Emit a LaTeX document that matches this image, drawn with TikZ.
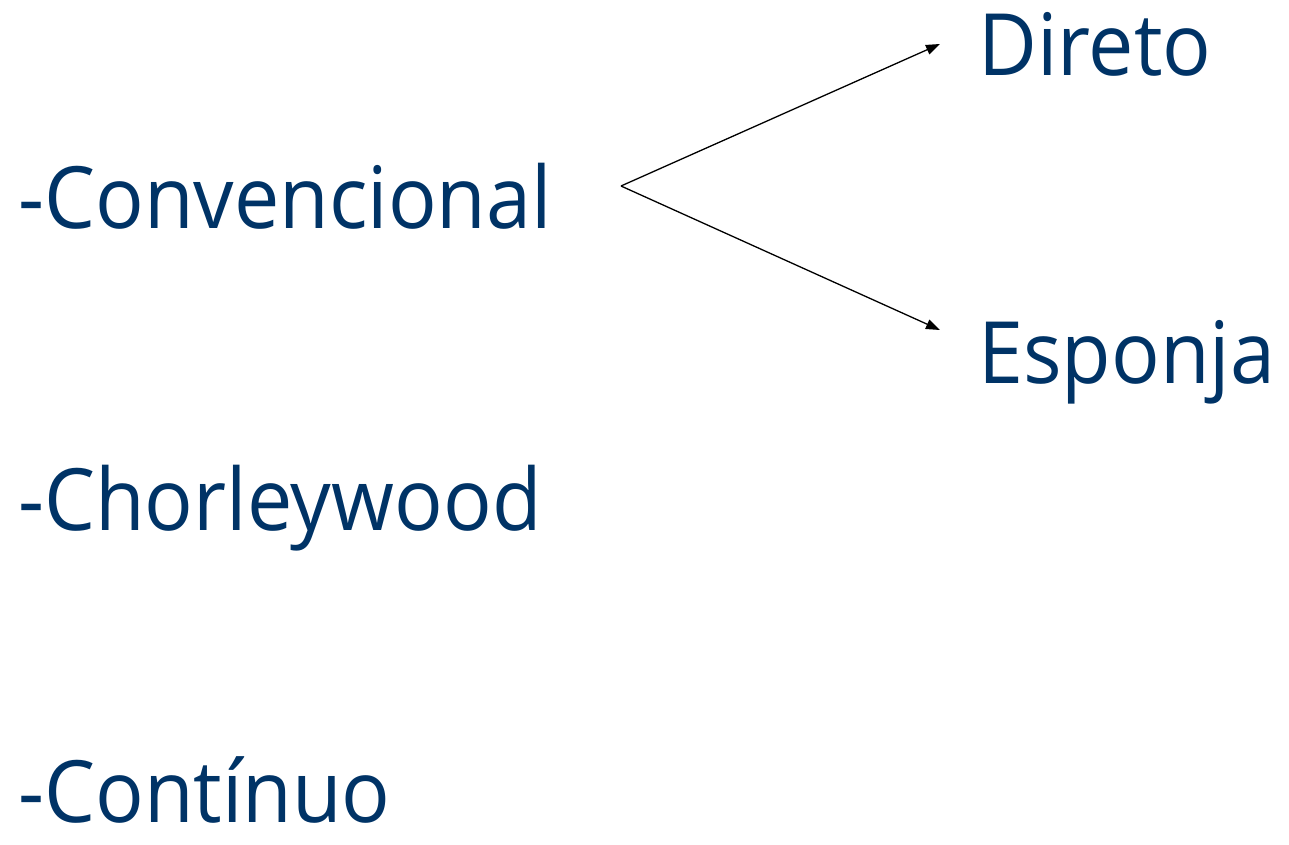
\documentclass[tikz,border=0pt]{standalone}
\usepackage{fontspec}
\setmainfont{Open Sans}
\usetikzlibrary{arrows.meta}
\definecolor{txtblue}{HTML}{003366}
\newcommand{\narrow}[1]{\scalebox{0.94}[1]{#1}}
\begin{document}
\begin{tikzpicture}[x=1pt,y=-1pt,
  lbl/.style={anchor=base west,inner sep=0pt,text=txtblue,font=\fontsize{86}{100}\selectfont},
  arr/.style={-{Triangle[length=14pt,width=10pt]},line width=1.3pt}]
\useasboundingbox (0,0) rectangle (1289,844);
\node[lbl] (conv) at (18,228) {\narrow{-Convencional}};
\node[lbl] (chor) at (18,530) {\narrow{-Chorleywood}};
\node[lbl] (cont) at (18,822) {\narrow{-Contínuo}};
\node[lbl] (dir) at (978,75) {\narrow{Direto}};
\node[lbl] (esp) at (978,383) {\narrow{Esponja}};
\coordinate (src) at (621,186);
\coordinate (t1) at (940,44);
\coordinate (t2) at (940,330);
\draw[arr] (src) -- (t1);
\draw[arr] (src) -- (t2);
\end{tikzpicture}
\end{document}
